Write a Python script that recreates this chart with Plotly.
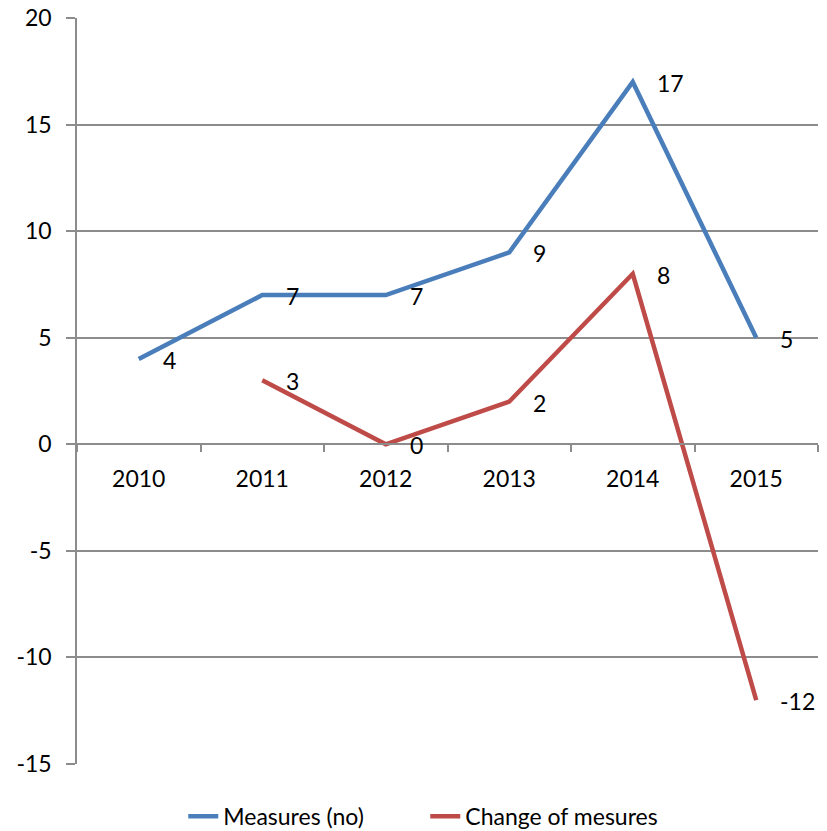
import plotly.graph_objects as go

years = ["2010", "2011", "2012", "2013", "2014", "2015"]
measures = [4, 7, 7, 9, 17, 5]
change_years = ["2011", "2012", "2013", "2014", "2015"]
change = [3, 0, 2, 8, -12]
y_ticks = [-15, -10, -5, 0, 5, 10, 15, 20]
y_tick_labels = ["-15", "-10", "-5", "0", "5", "10", "15", "20"]

BLUE = "#4A7EBB"
RED = "#BE4B48"
GRID = "#8C8C8C"
FONT = "Lato"
FS = 23

fig = go.Figure()
fig.add_trace(go.Scatter(x=years, y=measures, mode="lines", name="Measures (no)",
                         line=dict(color=BLUE, width=4.5)))
fig.add_trace(go.Scatter(x=change_years, y=change, mode="lines", name="Change of mesures",
                         line=dict(color=RED, width=4.5)))

annotations = []
for xs, ys in ((years, measures), (change_years, change)):
    for x, y in zip(xs, ys):
        annotations.append(dict(x=years.index(x), y=y, xref="x", yref="y",
                                text=str(y), showarrow=False,
                                xanchor="left", yanchor="middle", xshift=22, yshift=-1,
                                font=dict(size=FS, color="black", family=FONT)))

fig.update_layout(
    width=819, height=823,
    margin=dict(l=69, r=9, t=10, b=67, autoexpand=False),
    paper_bgcolor="white", plot_bgcolor="white",
    font=dict(family=FONT, size=FS, color="black"),
    showlegend=True,
    legend=dict(orientation="h", x=0.470, xanchor="center", y=-0.07, yanchor="middle",
                font=dict(size=FS), itemwidth=30, entrywidth=197),
    annotations=annotations,
    xaxis=dict(type="category", categoryorder="array", categoryarray=years,
               range=[-0.5, 5.5], anchor="free", position=15/35, automargin=False,
               showline=True, linecolor=GRID, linewidth=1.5,
               ticks="outside", tickson="boundaries", ticklen=7, tickcolor=GRID, tickwidth=1.5,
               showgrid=False, zeroline=False, ticklabelstandoff=14,
               tickfont=dict(size=FS)),
    yaxis=dict(range=[-15, 20], tickvals=y_ticks, ticktext=y_tick_labels, automargin=False,
               showline=True, linecolor=GRID, linewidth=1.5,
               ticks="outside", ticklen=9, tickcolor=GRID, tickwidth=1.5,
               showgrid=True, gridcolor=GRID, gridwidth=1.5, zeroline=False,
               ticklabeloverflow="allow",
               ticklabelstandoff=10, tickfont=dict(size=FS)),
)

fig.write_html("out.html")
